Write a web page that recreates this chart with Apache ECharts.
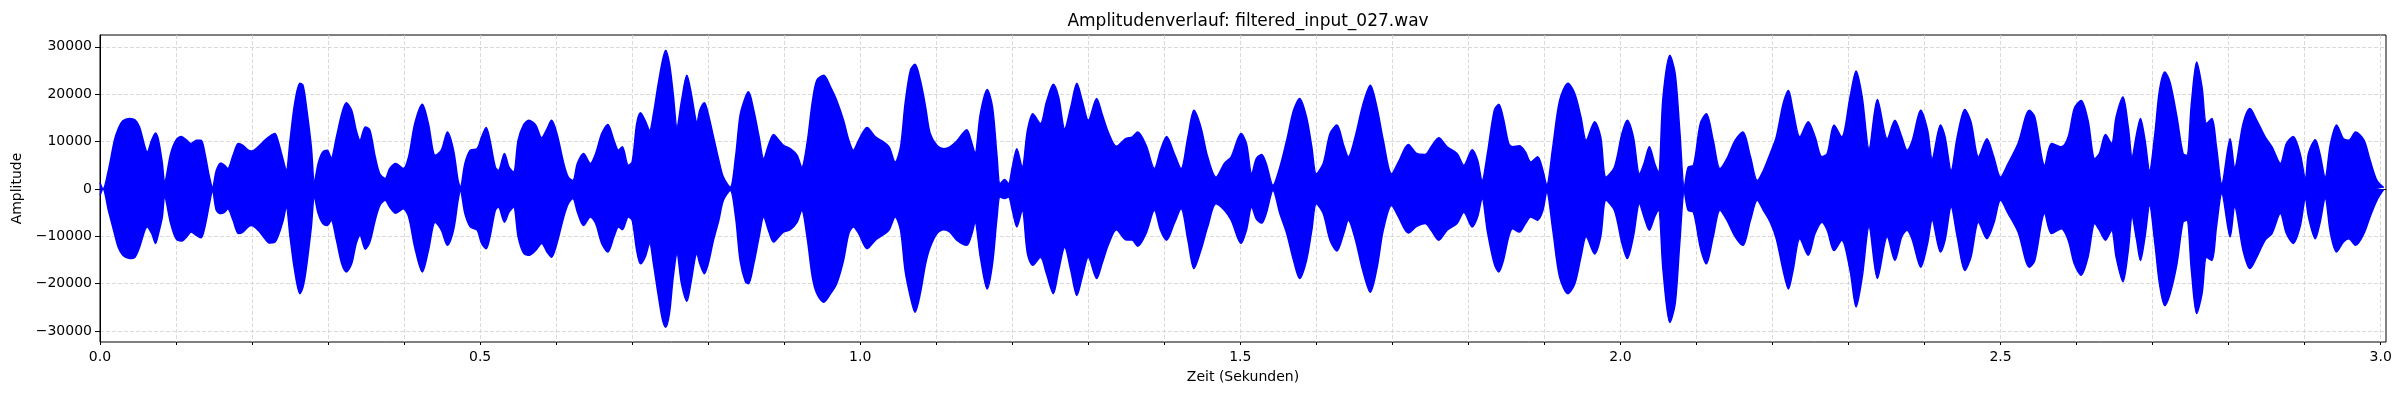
<!DOCTYPE html>
<html>
<head>
<meta charset="utf-8">
<script src="https://cdn.jsdelivr.net/npm/echarts@6/dist/echarts.min.js"></script>
<style>
  html, body { margin: 0; padding: 0; background: #fff; }
  #main { width: 2400px; height: 400px; }
</style>
</head>
<body>
<div id="main"></div>
<script>
// Zeitpunkte (s) und Hüllkurve oben/unten
const zeitSek = [
  0.000, 0.004, 0.011, 0.019, 0.024, 0.030, 0.039, 0.046, 0.052, 0.059, 0.062, 0.068, 0.073, 0.077, 0.082, 0.085,
  0.093, 0.100, 0.107, 0.114, 0.120, 0.127, 0.133, 0.138, 0.144, 0.148, 0.153, 0.159, 0.164, 0.168, 0.175, 0.182,
  0.188, 0.195, 0.199, 0.208, 0.217, 0.223, 0.230, 0.234, 0.241, 0.245, 0.250, 0.256, 0.263, 0.267, 0.271, 0.278,
  0.282, 0.287, 0.293, 0.299, 0.304, 0.311, 0.318, 0.324, 0.331, 0.337, 0.342, 0.349, 0.355, 0.362, 0.368, 0.375,
  0.381, 0.389, 0.399, 0.406, 0.414, 0.424, 0.432, 0.441, 0.449, 0.457, 0.465, 0.471, 0.474, 0.480, 0.487, 0.496,
  0.502, 0.508, 0.513, 0.520, 0.524, 0.532, 0.538, 0.544, 0.550, 0.557, 0.564, 0.573, 0.581, 0.588, 0.594, 0.601,
  0.610, 0.616, 0.622, 0.628, 0.636, 0.645, 0.652, 0.660, 0.668, 0.676, 0.682, 0.687, 0.695, 0.700, 0.706, 0.711,
  0.717, 0.723, 0.728, 0.734, 0.740, 0.744, 0.749, 0.754, 0.759, 0.765, 0.772, 0.777, 0.783, 0.785, 0.789, 0.795,
  0.800, 0.807, 0.814, 0.820, 0.829, 0.836, 0.842, 0.849, 0.853, 0.860, 0.867, 0.873, 0.880, 0.886, 0.893, 0.899,
  0.908, 0.917, 0.923, 0.930, 0.937, 0.943, 0.952, 0.961, 0.969, 0.978, 0.985, 0.991, 0.998, 1.009, 1.020, 1.031,
  1.038, 1.046, 1.053, 1.059, 1.066, 1.072, 1.079, 1.086, 1.092, 1.101, 1.110, 1.118, 1.127, 1.140, 1.147, 1.151,
  1.158, 1.167, 1.174, 1.180, 1.184, 1.190, 1.195, 1.200, 1.206, 1.213, 1.220, 1.227, 1.237, 1.245, 1.254, 1.261,
  1.269, 1.277, 1.285, 1.292, 1.300, 1.311, 1.318, 1.327, 1.337, 1.349, 1.358, 1.365, 1.376, 1.387, 1.395, 1.403,
  1.413, 1.422, 1.431, 1.439, 1.448, 1.457, 1.468, 1.479, 1.488, 1.501, 1.508, 1.515, 1.521, 1.528, 1.534, 1.543,
  1.552, 1.561, 1.570, 1.578, 1.587, 1.594, 1.600, 1.609, 1.618, 1.627, 1.636, 1.642, 1.651, 1.661, 1.671, 1.680,
  1.688, 1.699, 1.708, 1.721, 1.732, 1.743, 1.751, 1.761, 1.772, 1.785, 1.794, 1.805, 1.812, 1.818, 1.825, 1.834,
  1.840, 1.846, 1.853, 1.858, 1.867, 1.875, 1.882, 1.891, 1.898, 1.903, 1.911, 1.920, 1.931, 1.940, 1.948, 1.955,
  1.966, 1.974, 1.981, 1.992, 2.002, 2.009, 2.017, 2.025, 2.031, 2.038, 2.045, 2.050, 2.056, 2.065, 2.072, 2.078,
  2.084, 2.089, 2.096, 2.105, 2.113, 2.122, 2.131, 2.140, 2.151, 2.161, 2.171, 2.180, 2.188, 2.197, 2.205, 2.214,
  2.221, 2.227, 2.236, 2.247, 2.256, 2.265, 2.272, 2.281, 2.291, 2.302, 2.310, 2.318, 2.327, 2.338, 2.351, 2.361,
  2.370, 2.377, 2.384, 2.395, 2.404, 2.410, 2.421, 2.427, 2.435, 2.443, 2.453, 2.461, 2.471, 2.482, 2.491, 2.500,
  2.510, 2.523, 2.538, 2.545, 2.558, 2.567, 2.580, 2.589, 2.597, 2.606, 2.615, 2.624, 2.630, 2.638, 2.646, 2.652,
  2.661, 2.668, 2.673, 2.679, 2.684, 2.690, 2.696, 2.703, 2.709, 2.716, 2.723, 2.732, 2.740, 2.745, 2.751, 2.758,
  2.765, 2.771, 2.778, 2.784, 2.791, 2.802, 2.808, 2.819, 2.828, 2.837, 2.848, 2.857, 2.868, 2.876, 2.885, 2.894,
  2.901, 2.905, 2.914, 2.920, 2.927, 2.934, 2.942, 2.951, 2.958, 2.967, 2.978, 2.986, 2.995, 3.004
];
const obereHuelle = [
  1300, 0, 3900, 10300, 12700, 14400, 14900, 14600, 13100, 8900, 7800, 10300, 11800, 10300, 5400, 1500,
  7500, 10300, 11100, 10300, 9600, 10300, 10300, 7500, 2500, 400, 3900, 5500, 5000, 4300, 7100, 9600,
  9200, 8200, 8000, 8900, 10300, 11100, 11700, 10300, 6100, 3900, 10300, 18000, 22300, 21900, 18000, 8900,
  1500, 5400, 7800, 8200, 6500, 11000, 15900, 18200, 16600, 12400, 10300, 13100, 12400, 6800, 3200, 2200,
  4300, 5400, 4300, 6800, 13800, 17900, 13800, 7100, 8200, 12000, 8200, 1800, 400, 5400, 8200, 8500,
  11000, 13000, 10300, 4600, 3900, 7500, 4600, 3600, 10300, 13500, 14500, 13500, 10800, 12700, 14500, 11700,
  5400, 2500, 1800, 5400, 7500, 5400, 7500, 11700, 13600, 10300, 8200, 8900, 5000, 5700, 13800, 16100,
  14500, 12400, 15900, 21900, 27200, 29300, 26500, 20100, 13100, 18700, 24000, 20800, 15200, 13800, 16600, 18200,
  15900, 11000, 6100, 2500, 400, 6800, 15600, 19400, 20500, 16600, 11000, 6400, 9600, 11500, 10300, 9200,
  8500, 7100, 4600, 9600, 18400, 23000, 24000, 21500, 18700, 14500, 10300, 8200, 10300, 13000, 11000, 9900,
  8900, 5700, 8900, 18000, 25100, 26300, 23000, 17300, 11700, 9200, 8500, 8900, 10100, 12500, 9600, 7500,
  15900, 21000, 17300, 6800, 1100, 2000, 1100, 4600, 8500, 4600, 12400, 15900, 13800, 18400, 22100, 19400,
  12700, 17300, 22300, 18700, 14500, 19100, 15900, 11700, 9000, 10600, 11000, 12000, 9200, 4300, 8200, 11100,
  7500, 4300, 11000, 16600, 13100, 6800, 2500, 5400, 6800, 11700, 9600, 3200, 6400, 7300, 5400, 800,
  4600, 10300, 16600, 19100, 15200, 8900, 3200, 5400, 11700, 13500, 9200, 6800, 11000, 17700, 21900, 17000,
  10300, 3200, 5700, 9400, 7500, 7300, 8900, 10800, 8900, 7500, 5000, 8300, 6100, 1800, 7500, 16600,
  17900, 14900, 9600, 8900, 9100, 7800, 5700, 6800, 3900, 800, 8900, 18700, 22300, 20100, 15200, 10300,
  14200, 11000, 2500, 4600, 11700, 14500, 11000, 3200, 5400, 8900, 5400, 3600, 19400, 28200, 24300, 12400,
  400, 4600, 5000, 13800, 15900, 10300, 4300, 6400, 10300, 12000, 6800, 1800, 3900, 7500, 11000, 18000,
  20800, 16600, 11000, 14200, 11000, 6800, 7500, 13500, 11000, 19400, 24900, 19400, 8500, 18900, 10600, 14500,
  11000, 8200, 10300, 16600, 12400, 6400, 13500, 11000, 3900, 11000, 16800, 14200, 6800, 10600, 6800, 2500,
  5400, 9600, 16600, 15200, 5000, 9600, 8900, 11000, 17000, 18700, 14500, 6400, 7500, 11500, 9600, 15200,
  19400, 13100, 6800, 11700, 14900, 10300, 3900, 11700, 20800, 24700, 22500, 15200, 7500, 7100, 18000, 26800,
  21500, 13800, 14900, 8900, 1100, 10600, 4600, 13800, 17000, 14500, 11000, 8900, 5400, 9600, 11100, 7500,
  2200, 7500, 10400, 7500, 2500, 9600, 13500, 10600, 10300, 12000, 10300, 6100, 1800, 300
];
const untereHuelle = [
  -1300, 0, -4500, -9400, -12300, -14000, -14700, -14400, -12300, -8700, -8000, -9400, -11500, -9400, -5900, -1700,
  -7300, -10500, -11000, -10100, -9100, -9800, -10300, -8000, -3100, -300, -4500, -5200, -4900, -4200, -6600, -9400,
  -9100, -8000, -7700, -8700, -10500, -11400, -11200, -10100, -6600, -3800, -10100, -17200, -22100, -20700, -17200, -8000,
  -1700, -5200, -7300, -7700, -6600, -10800, -15800, -17500, -15800, -11500, -9800, -12700, -11200, -6600, -3500, -2400,
  -3800, -5100, -4200, -5900, -12300, -17500, -13000, -7000, -8700, -11900, -8700, -2400, -300, -5200, -8000, -8700,
  -11500, -12600, -10100, -4500, -3800, -7000, -4900, -3800, -10100, -13500, -14000, -13000, -11500, -13300, -14400, -11500,
  -5900, -3100, -2000, -4900, -7700, -5900, -7300, -11500, -13300, -10100, -8000, -8600, -5900, -6600, -13000, -15800,
  -14400, -11500, -15800, -22100, -27700, -29200, -26300, -18600, -13700, -20100, -23700, -20100, -14400, -13700, -15800, -17900,
  -15800, -10800, -6600, -2400, -300, -5900, -15100, -19600, -20000, -15800, -10100, -5900, -9100, -11200, -10100, -9100,
  -8600, -7000, -4500, -10100, -18600, -22100, -23900, -22100, -20000, -15100, -9400, -8000, -9400, -12600, -10800, -9600,
  -8600, -5900, -8700, -17200, -22800, -26000, -22100, -15800, -12300, -9400, -8600, -9100, -10800, -11900, -9400, -7000,
  -14400, -21100, -15800, -5900, -1700, -2000, -1700, -4500, -8000, -4500, -13700, -16100, -14400, -17900, -22100, -17200,
  -12300, -17200, -22500, -18600, -14400, -18900, -15800, -11500, -8600, -10700, -10800, -12100, -9400, -4500, -8700, -10800,
  -7300, -4200, -10800, -16800, -13000, -8000, -3100, -4500, -6600, -11500, -8700, -3800, -6300, -7200, -5200, -300,
  -5200, -9400, -15100, -18900, -15100, -8700, -3100, -5200, -10800, -13100, -9400, -6600, -10500, -17200, -21800, -16500,
  -8700, -3500, -5900, -9300, -7900, -7300, -8700, -10800, -8700, -7300, -4900, -8000, -5900, -2000, -9000, -15800,
  -17500, -15100, -10100, -8400, -9100, -7300, -5900, -6600, -4500, -600, -8700, -18600, -22100, -20000, -14400, -10100,
  -13700, -10100, -2400, -4500, -11500, -14700, -10100, -3100, -5900, -8700, -5900, -4500, -17200, -28200, -24200, -11500,
  -600, -4500, -4900, -12300, -15800, -10100, -4500, -6600, -10100, -11900, -6600, -2400, -4500, -7000, -10500, -17200,
  -21100, -17200, -10500, -14000, -9400, -7000, -8700, -13000, -10800, -17200, -24900, -18600, -8000, -18900, -10100, -15100,
  -10100, -8700, -10800, -16500, -11500, -6600, -13300, -10800, -3800, -10100, -17200, -14400, -7000, -10500, -7300, -2400,
  -5200, -9100, -16500, -15100, -5200, -9400, -8400, -10800, -15800, -18200, -14400, -7300, -8700, -10800, -8700, -14400,
  -19600, -13000, -5900, -10800, -15100, -10100, -3500, -11500, -20000, -24600, -22100, -15800, -7000, -6600, -17200, -26300,
  -22100, -14400, -15100, -8000, -1000, -10100, -3800, -13000, -16800, -14400, -10800, -9400, -5200, -9400, -11500, -8000,
  -2000, -5900, -10500, -7300, -2000, -9400, -13300, -11200, -10500, -11900, -9400, -5900, -2400, -100
];
// Achsen
const xEnde = 3.007;
const xHauptTicks = [0, 0.5, 1.0, 1.5, 2.0, 2.5, 3.0];
const xNebenTicks = [0.1, 0.2, 0.3, 0.4, 0.6, 0.7, 0.8, 0.9, 1.1, 1.2, 1.3, 1.4, 1.6, 1.7, 1.8, 1.9,
  2.1, 2.2, 2.3, 2.4, 2.6, 2.7, 2.8, 2.9, 0, 0.5, 1.0, 1.5, 2.0, 2.5, 3.0];
const yTicks = [-30000, -20000, -10000, 0, 10000, 20000, 30000];
const yMin = -32300, yMax = 32500;

const oben = zeitSek.map((t, i) => [t, obereHuelle[i]]);
const unten = zeitSek.map((t, i) => [t, untereHuelle[i]]);

const schrift = 'DejaVu Sans';
const gitterLinie = { show: true, lineStyle: { color: '#d0d0d0', width: 0.8, type: [4, 2] } };

let myChart = echarts.init(document.getElementById('main'), null, { renderer: 'canvas' });
myChart.setOption({
  animation: false,
  textStyle: { fontFamily: schrift },
  title: {
    text: 'Amplitudenverlauf: filtered_input_027.wav',
    left: 1243,
    top: 8,
    textAlign: 'center',
    textStyle: { fontFamily: schrift, fontSize: 17, fontWeight: 'normal', color: '#000' }
  },
  grid: {
    left: 100, right: 14, top: 35, bottom: 58,
    show: true, borderColor: '#000', borderWidth: 1, backgroundColor: 'transparent'
  },
  xAxis: [
    {
      type: 'value', min: 0, max: xEnde,
      name: 'Zeit (Sekunden)', nameLocation: 'middle', nameGap: 28,
      nameTextStyle: { fontFamily: schrift, fontSize: 14, color: '#000' },
      axisLine: { show: true, lineStyle: { color: '#000', width: 1 } },
      axisTick: { show: true, customValues: xHauptTicks, length: 5, lineStyle: { color: '#000' } },
      axisLabel: {
        customValues: xHauptTicks, color: '#000', fontSize: 14, fontFamily: schrift, margin: 8,
        formatter: v => v.toFixed(1)
      },
      splitLine: { show: false }
    },
    {
      type: 'value', min: 0, max: xEnde, position: 'bottom',
      axisLine: { show: false },
      axisTick: { show: true, customValues: xNebenTicks, length: 3, lineStyle: { color: '#000' } },
      axisLabel: { show: false },
      splitLine: gitterLinie
    }
  ],
  yAxis: {
    type: 'value', min: yMin, max: yMax,
    name: 'Amplitude', nameLocation: 'middle', nameGap: 72, nameRotate: 90,
    nameTextStyle: { fontFamily: schrift, fontSize: 14, color: '#000' },
    axisLine: { show: true, lineStyle: { color: '#000', width: 1 } },
    axisTick: { show: true, customValues: yTicks, length: 5, lineStyle: { color: '#000' } },
    axisLabel: {
      customValues: yTicks, color: '#000', fontSize: 14, fontFamily: schrift, margin: 8,
      formatter: v => (v < 0 ? '\u2212' + Math.abs(v) : String(v))
    },
    splitLine: gitterLinie
  },
  series: [
    {
      name: 'oben', type: 'line', xAxisIndex: 0, data: oben, showSymbol: false, symbol: 'none',
      smooth: 0.3,
      lineStyle: { color: '#0000ff', width: 1.5 },
      areaStyle: { color: '#0000ff', opacity: 1, origin: 0 }
    },
    {
      name: 'unten', type: 'line', xAxisIndex: 0, data: unten, showSymbol: false, symbol: 'none',
      smooth: 0.3,
      lineStyle: { color: '#0000ff', width: 1.5 },
      areaStyle: { color: '#0000ff', opacity: 1, origin: 0 }
    }
  ]
});
</script>
</body>
</html>
